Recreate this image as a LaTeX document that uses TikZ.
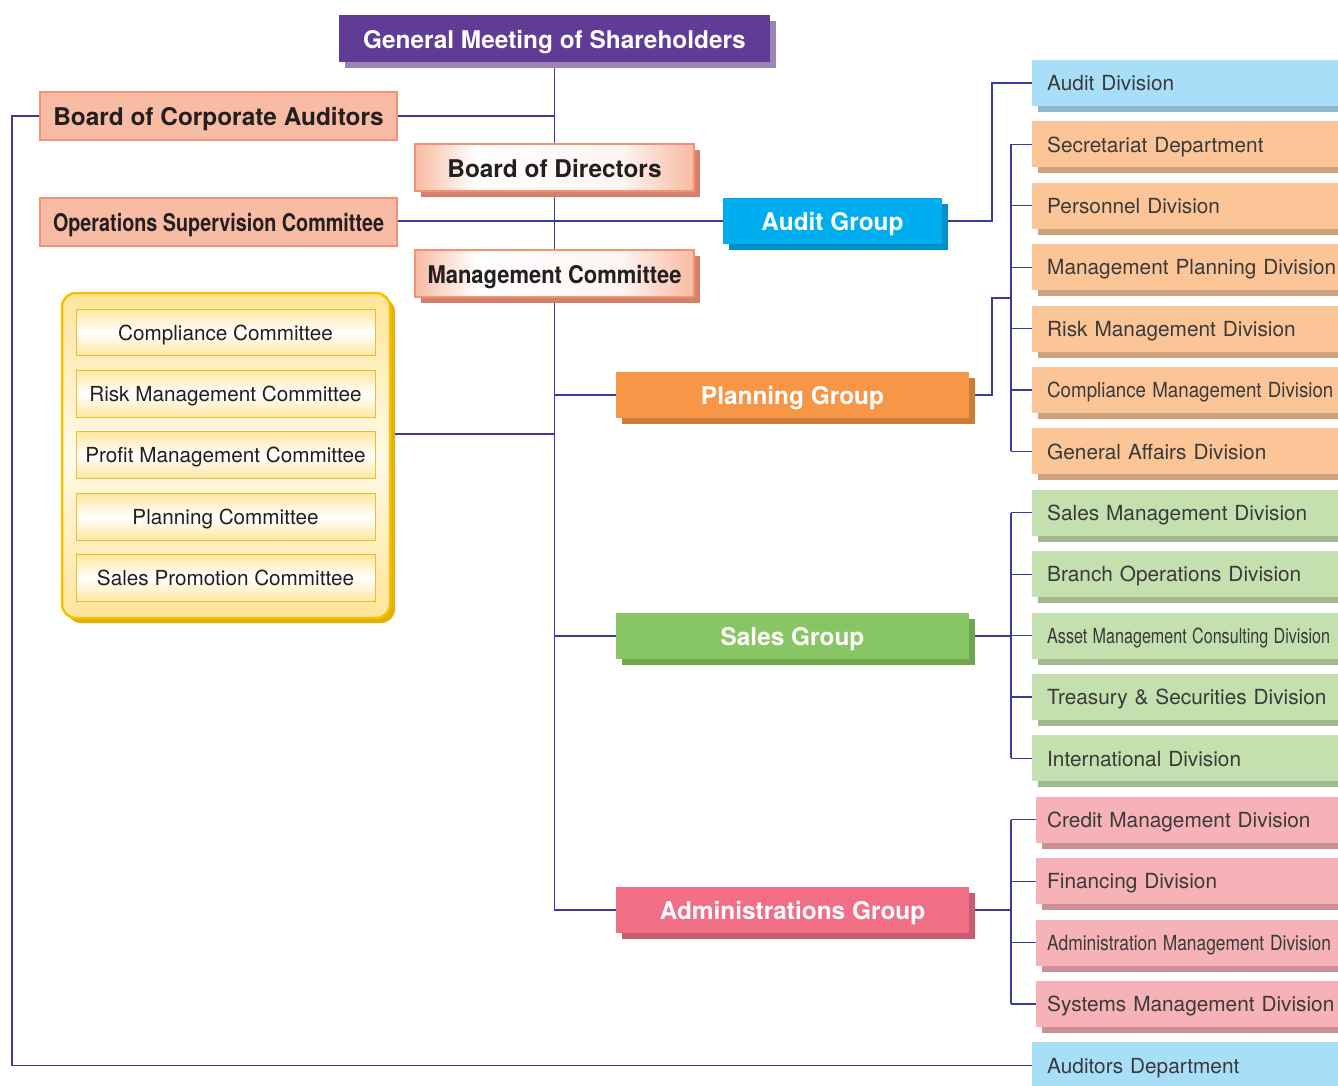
\documentclass[tikz,border=0pt]{standalone}
\usepackage{fontspec}
\setmainfont{TeX Gyre Heros}
\usetikzlibrary{shadows,backgrounds,shadings}
\definecolor{linec}{HTML}{3B3B9B}
\definecolor{gmfill}{HTML}{613C96}
\definecolor{gmshad}{HTML}{9B83B5}
\definecolor{sal}{HTML}{F8BBA3}
\definecolor{salb}{HTML}{F29177}
\definecolor{salshad}{HTML}{D4806A}
\definecolor{agfill}{HTML}{00AEEF}
\definecolor{agshad}{HTML}{0090C8}
\definecolor{pgfill}{HTML}{F79646}
\definecolor{pgshad}{HTML}{CC7D3A}
\definecolor{sgfill}{HTML}{88C665}
\definecolor{sgshad}{HTML}{6EA54E}
\definecolor{adfill}{HTML}{F06F85}
\definecolor{adshad}{HTML}{C75D6E}
\definecolor{bluediv}{HTML}{A9DEF9}
\definecolor{bluedivs}{HTML}{8BB8CC}
\definecolor{orgdiv}{HTML}{FCC597}
\definecolor{orgdivs}{HTML}{CFA27E}
\definecolor{grndiv}{HTML}{C3E0AE}
\definecolor{grndivs}{HTML}{A2B890}
\definecolor{pnkdiv}{HTML}{F6B2B7}
\definecolor{pnkdivs}{HTML}{CD9096}
\definecolor{divtext}{HTML}{3A3A3A}
\definecolor{darktext}{HTML}{231F20}
\definecolor{yelb}{HTML}{F4C300}
\definecolor{yelshad}{HTML}{E3AF00}
\definecolor{yelfill}{HTML}{FFE59A}
\definecolor{yelin}{HTML}{FFFAE8}
\definecolor{combord}{HTML}{E6BE3C}
\definecolor{comyel}{HTML}{FFE6A0}
\pgfdeclarehorizontalshading{bodsh}{100bp}{color(0bp)=(sal); color(25bp)=(sal); color(36bp)=(white); color(62bp)=(white!85!sal); color(75bp)=(sal); color(100bp)=(sal)}
\tikzset{
  conn/.style={draw=linec, line width=1.3pt},
  shad/.style={general shadow={fill=#1, shadow xshift=6pt, shadow yshift=-6pt}},
  bigbox/.style={inner sep=0pt, minimum height=47pt, text height=19.5pt, text depth=0pt, font=\fontsize{24.4}{28}\selectfont\bfseries},
  salbox/.style={bigbox, fill=sal, draw=salb, line width=2pt, text=darktext, minimum width=357pt, minimum height=48pt},
  gradbox/.style={bigbox, shading=bodsh, draw=salb, line width=2pt, text=darktext, minimum width=279pt, shad=salshad},
  grpbox/.style={bigbox, text=white, minimum height=46pt},
  div/.style={anchor=west, text width=300pt, inner xsep=15pt, inner ysep=0pt, minimum height=46pt, text height=15.5pt, text depth=0pt, align=left, font=\fontsize{20.8}{24}\selectfont, text=divtext},
  bdiv/.style={div, fill=bluediv, shad=bluedivs},
  odiv/.style={div, fill=orgdiv, shad=orgdivs},
  gdiv/.style={div, fill=grndiv, shad=grndivs},
  pdiv/.style={div, inner xsep=11pt, text width=308pt, fill=pnkdiv, shad=pnkdivs},
  combox/.style={draw=combord, line width=0.9pt, top color=comyel, bottom color=comyel, middle color=white, minimum width=299pt, minimum height=46.5pt, inner sep=0pt, text height=15.5pt, text depth=0pt, font=\fontsize{20.7}{24}\selectfont, text=darktext}
}
\begin{document}
\begin{tikzpicture}[x=1pt,y=-1pt]
\useasboundingbox (0,0) rectangle (1338,1086);
\clip (0,0) rectangle (1338,1086);

% top boxes
\node[bigbox, fill=gmfill, text=white, minimum width=431pt, shad=gmshad] (gm) at (554.5,38.5) {General Meeting of Shareholders};
\node[salbox] (bca) at (218.5,116) {Board of Corporate Auditors};
\node[gradbox] (bod) at (554.5,167.5) {Board of Directors};
\node[salbox] (osc) at (218.5,222) {\scalebox{0.81}[1]{Operations Supervision Committee}};
\node[gradbox] (mc) at (554.5,273.5) {\scalebox{0.9}[1]{Management Committee}};

% groups
\node[grpbox, fill=agfill, minimum width=219pt, shad=agshad] (ag) at (832.5,221) {Audit Group};
\node[grpbox, fill=pgfill, minimum width=353pt, shad=pgshad] (pg) at (792.5,395) {Planning Group};
\node[grpbox, fill=sgfill, minimum width=353pt, shad=sgshad] (sg) at (792.5,636) {Sales Group};
\node[grpbox, fill=adfill, minimum width=353pt, shad=adshad] (adg) at (792.5,910) {Administrations Group};

% committees
\node[draw=yelb, line width=2.5pt, rounded corners=14pt, top color=yelfill, bottom color=yelfill, middle color=yelin,
      minimum width=328pt, minimum height=325pt, general shadow={fill=yelshad, shadow xshift=5pt, shadow yshift=-5pt}] (com) at (226,455.5) {};
\node[combox] (c1) at (225.5,332.3) {Compliance Committee};
\node[combox] (c2) at (225.5,393.8) {Risk Management Committee};
\node[combox] (c3) at (225.5,455) {Profit Management Committee};
\node[combox] (c4) at (225.5,516.7) {Planning Committee};
\node[combox] (c5) at (225.5,577.7) {Sales Promotion Committee};

% divisions
\node[bdiv] (ad) at (1032,83) {Audit Division};
\node[odiv] (sec) at (1032,144.4) {Secretariat Department};
\node[odiv] (per) at (1032,205.8) {Personnel Division};
\node[odiv] (mpd) at (1032,267.2) {Management Planning Division};
\node[odiv] (rmd) at (1032,328.6) {Risk Management Division};
\node[odiv] (cmd) at (1032,390) {\scalebox{0.9}[1]{Compliance Management Division}};
\node[odiv] (gad) at (1032,451.4) {General Affairs Division};
\node[gdiv] (smd) at (1032,512.8) {Sales Management Division};
\node[gdiv] (bod2) at (1032,574.2) {Branch Operations Division};
\node[gdiv] (amc) at (1032,635.6) {\scalebox{0.775}[1]{Asset Management Consulting Division}};
\node[gdiv] (tsd) at (1032,697) {Treasury \& Securities Division};
\node[gdiv] (intl) at (1032,758.4) {International Division};
\node[pdiv] (cmg) at (1036,819.8) {Credit Management Division};
\node[pdiv] (fin) at (1036,881.2) {Financing Division};
\node[pdiv] (amd) at (1036,942.6) {\scalebox{0.836}[1]{Administration Management Division}};
\node[pdiv] (sys) at (1036,1004) {Systems Management Division};
\node[div, fill=bluediv] (aud) at (1032,1065.4) {Auditors Department};

\coordinate (ja) at (992,298);
\coordinate (jb) at (1011,298);
\coordinate (jl) at (12,116);
\coordinate (jc) at (554.5,434);

\begin{scope}[on background layer]
\draw[conn] (gm.south) -- (gm.south |- adg.west) -- (adg.west);
\draw[conn] (bca.east) -- (bca.east -| gm.south);
\draw[conn] (bca.west) -- (jl) |- (aud.west);
\draw[conn] (osc.east |- ag.west) -- (ag.west);
\draw[conn] (com.east |- jc) -- (jc);
\draw[conn] (gm.south |- pg.west) -- (pg.west);
\draw[conn] (gm.south |- sg.west) -- (sg.west);
\draw[conn] (ag.east) -- (ag.east -| ja) |- (ad.west);
\draw[conn] (pg.east) -- (pg.east -| ja) |- (jb);
\draw[conn] (jb |- sec.west) -- (jb |- gad.west);
\foreach \n in {sec,per,mpd,rmd,cmd,gad} \draw[conn] (jb |- \n.west) -- (\n.west);
\draw[conn] (sg.east) -- (sg.east -| jb);
\draw[conn] (jb |- smd.west) -- (jb |- intl.west);
\foreach \n in {smd,bod2,amc,tsd,intl} \draw[conn] (jb |- \n.west) -- (\n.west);
\draw[conn] (adg.east) -- (adg.east -| jb);
\draw[conn] (jb |- cmg.west) -- (jb |- sys.west);
\foreach \n in {cmg,fin,amd,sys} \draw[conn] (jb |- \n.west) -- (\n.west);
\end{scope}
\end{tikzpicture}
\end{document}
